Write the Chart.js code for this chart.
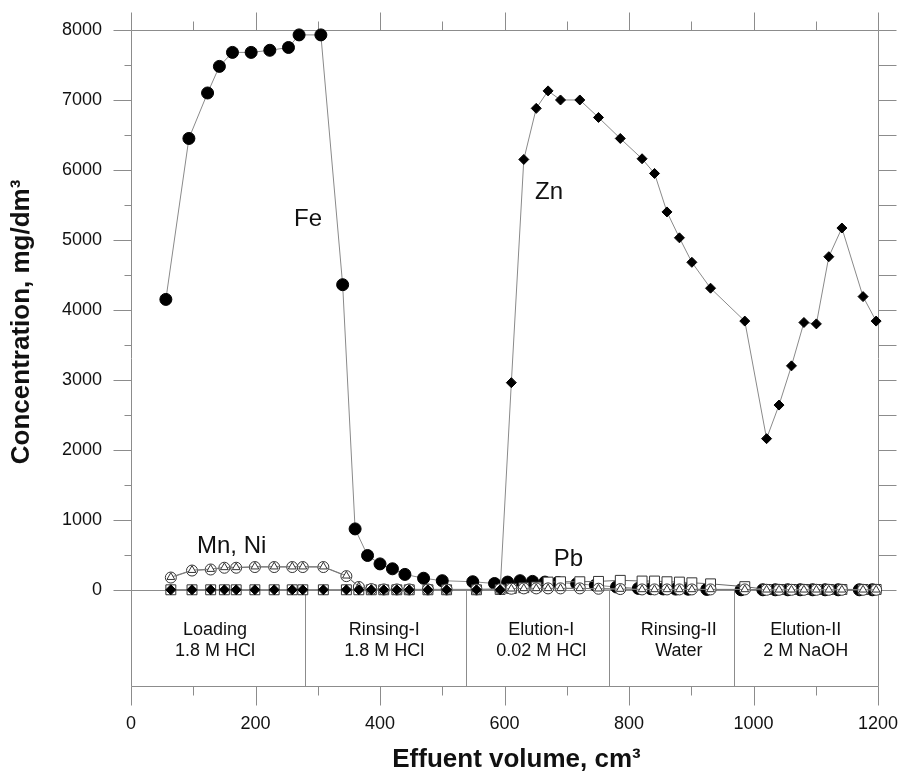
<!DOCTYPE html>
<html><head><meta charset="utf-8">
<script src="https://cdn.jsdelivr.net/npm/chart.js@4.4.1/dist/chart.umd.min.js"></script>
<style>html,body{margin:0;padding:0;background:#fff}#wrap{width:899px;height:774px;position:relative}</style>
</head><body><div id="wrap"><canvas id="c"></canvas></div>
<script>
// ---- data (effluent volume in cm3, concentration in mg/dm3) ----
const feVolume = [56, 93, 123, 142, 163, 193, 223, 253, 270, 305, 340, 360, 380, 400, 420, 440, 470, 500, 549, 584, 605, 625, 645, 665, 686, 716, 746, 780, 815, 835, 855, 875, 895, 925, 980, 1015, 1035, 1055, 1075, 1095, 1115, 1136, 1170, 1191];
const feConc = [4150, 6450, 7100, 7480, 7680, 7680, 7710, 7750, 7930, 7930, 4360, 870, 490, 370, 300, 220, 165, 130, 115, 90, 110, 130, 120, 110, 105, 85, 65, 40, 20, 15, 12, 10, 8, 5, 0, 0, 0, 0, 0, 0, 0, 0, 0, 0];
const volume = [64, 98, 128, 150, 169, 199, 230, 259, 276, 309, 346, 366, 386, 406, 427, 447, 477, 507, 555, 593, 611, 631, 651, 670, 690, 721, 751, 786, 821, 841, 861, 881, 901, 931, 986, 1021, 1041, 1061, 1081, 1101, 1121, 1142, 1176, 1197];
const znConc = [0, 0, 0, 0, 0, 0, 0, 0, 0, 0, 0, 0, 0, 0, 0, 0, 0, 0, 0, 0, 2960, 6150, 6880, 7130, 7000, 7000, 6750, 6450, 6160, 5950, 5400, 5030, 4680, 4310, 3840, 2160, 2640, 3200, 3820, 3800, 4760, 5170, 4190, 3840];
const mnConc = [180, 280, 295, 320, 320, 330, 330, 330, 330, 330, 200, 45, 10, 5, 5, 5, 5, 5, 5, 10, 15, 20, 20, 20, 20, 20, 15, 10, 5, 5, 5, 5, 5, 5, 5, 0, 0, 0, 0, 0, 0, 0, 0, 0];
const niConc = [175, 275, 290, 315, 315, 325, 325, 325, 325, 325, 195, 40, 10, 5, 5, 5, 5, 5, 5, 10, 15, 20, 20, 20, 20, 20, 15, 10, 5, 5, 5, 5, 5, 5, 5, 0, 0, 0, 0, 0, 0, 0, 0, 0];
const pbConc = [0, 0, 0, 0, 0, 0, 0, 0, 0, 0, 0, 0, 0, 0, 0, 0, 0, 0, 0, 5, 20, 30, 40, 110, 115, 115, 120, 135, 125, 125, 115, 110, 100, 85, 45, 5, 5, 5, 5, 5, 5, 5, 5, 5];
const xTickValues = [0, 200, 400, 600, 800, 1000, 1200];
const yTickValues = [0, 1000, 2000, 3000, 4000, 5000, 6000, 7000, 8000];
const phaseBounds = [280, 538, 768, 968];
const phaseNames = [['Loading', '1.8 M HCl'], ['Rinsing-I', '1.8 M HCl'], ['Elution-I', '0.02 M HCl'], ['Rinsing-II', 'Water'], ['Elution-II', '2 M NaOH']];
const seriesNames = ['Fe', 'Zn', 'Mn, Ni', 'Pb'];
const xTitle = 'Effuent volume, cm³';
const yTitle = 'Concentration, mg/dm³';

// ---- layout / style (not data) ----
const FONT = "'Liberation Sans', Arial, Helvetica, sans-serif";
const phaseLabelAt = [135, 407, 659, 880, 1084];
const seriesLabelAt = [[262, 5200], [649, 5586], [106, 529], [679, 343]];
const GRAY = '#8c8c8c';
const LINE = '#8a8a8a';

const pts = (xs, ys) => xs.map((x, i) => ({x, y: ys[i]}));
const noPad = s => { s.paddingTop = 0; s.paddingBottom = 0; s.paddingLeft = 0; s.paddingRight = 0; };

const framePlugin = {
  id: 'frame',
  beforeDatasetsDraw(chart) {
    const {ctx, chartArea: a, scales: {x, y}} = chart;
    const r = v => Math.round(v) + 0.5;
    const L = r(a.left), R = r(a.right), T = r(a.top), B = r(a.bottom);
    ctx.save();
    ctx.strokeStyle = GRAY; ctx.lineWidth = 1;
    const line = (x1, y1, x2, y2) => { ctx.beginPath(); ctx.moveTo(x1, y1); ctx.lineTo(x2, y2); ctx.stroke(); };
    line(L, T, R, T); line(L, B, R, B); line(L, T, L, B); line(R, T, R, B);
    for (let v = x.min; v <= x.max; v += 100) {
      const px = r(x.getPixelForValue(v));
      const major = v % 200 === 0;
      line(px, T, px, T - (major ? 18 : 9));
      line(px, B, px, B + (major ? 19 : 9));
    }
    for (let v = 0; v <= y.max; v += 500) {
      const py = r(y.getPixelForValue(v));
      const major = v % 1000 === 0;
      line(L, py, L - (major ? 18 : 7), py);
      line(R, py, R + 18, py);
    }
    const y0 = r(y.getPixelForValue(0));
    line(L, y0, R, y0);
    phaseBounds.forEach(b => { const px = r(x.getPixelForValue(b)); line(px, y0, px, B); });
    ctx.restore();
  },
  afterDatasetsDraw(chart) {
    const {ctx, chartArea: a, scales: {x, y}} = chart;
    ctx.save();
    ctx.fillStyle = '#111';
    ctx.textBaseline = 'alphabetic';
    ctx.font = '24px ' + FONT;
    ctx.textAlign = 'left';
    seriesNames.forEach((n, i) => {
      ctx.fillText(n, x.getPixelForValue(seriesLabelAt[i][0]), y.getPixelForValue(seriesLabelAt[i][1]));
    });
    ctx.font = '18px ' + FONT;
    ctx.textAlign = 'center';
    const y0 = y.getPixelForValue(0);
    phaseNames.forEach((p, i) => {
      const px = x.getPixelForValue(phaseLabelAt[i]);
      ctx.fillText(p[0], px, y0 + 45);
      ctx.fillText(p[1], px, y0 + 66);
    });
    // axis titles
    ctx.font = 'bold 26px ' + FONT;
    ctx.textAlign = 'center';
    ctx.fillText(xTitle, (a.left + a.right) / 2 + 12, chart.height - 7);
    ctx.translate(29, (a.top + y0) / 2 + 12);
    ctx.rotate(-Math.PI / 2);
    ctx.fillText(yTitle, 0, 0);
    ctx.restore();
  }
};

Chart.defaults.font.family = FONT;
Chart.defaults.color = '#111';

new Chart(document.getElementById('c'), {
  type: 'scatter',
  data: {
    datasets: [
      {label: 'Zn', data: pts(volume, znConc), showLine: true, borderColor: LINE, borderWidth: 1,
       pointStyle: 'rectRot', pointRadius: 5, backgroundColor: '#000', pointBorderColor: '#000', pointBorderWidth: 1},
      {label: 'Mn', data: pts(volume, mnConc), showLine: true, borderColor: '#7a7a7a', borderWidth: 1,
       pointStyle: 'triangle', pointRadius: 4.5, backgroundColor: '#fff', pointBorderColor: '#333', pointBorderWidth: 1},
      {label: 'Ni', data: pts(volume, niConc), showLine: true, borderColor: '#7a7a7a', borderWidth: 1,
       pointStyle: 'circle', pointRadius: 5.5, backgroundColor: '#fff', pointBorderColor: '#333', pointBorderWidth: 1},
      {label: 'Pb', data: pts(volume, pbConc), showLine: true, borderColor: '#6a6a6a', borderWidth: 1,
       pointStyle: 'rect', pointRadius: 7, backgroundColor: '#fff', pointBorderColor: '#333', pointBorderWidth: 1},
      {label: 'Fe', data: pts(feVolume, feConc), showLine: true, borderColor: LINE, borderWidth: 1,
       pointStyle: 'circle', pointRadius: 6, backgroundColor: '#000', pointBorderColor: '#000', pointBorderWidth: 1}
    ]
  },
  options: {
    responsive: true,
    maintainAspectRatio: false,
    animation: false,
    clip: false,
    layout: {padding: {top: 30, right: 21, left: 0, bottom: 0}},
    plugins: {legend: {display: false}, tooltip: {enabled: false}},
    scales: {
      x: {
        type: 'linear', min: 0, max: 1200,
        afterFit: s => { s.height = 88; noPad(s); },
        afterBuildTicks: s => { s.ticks = xTickValues.map(v => ({value: v})); },
        grid: {display: false, drawTicks: false},
        border: {display: false},
        ticks: {font: {size: 18}, color: '#111', padding: 27, maxRotation: 0, autoSkip: false, callback: v => String(v)},
        title: {display: false}
      },
      y: {
        type: 'linear', min: -1375, max: 8000,
        afterFit: s => { s.width = 131; noPad(s); },
        afterBuildTicks: s => { s.ticks = yTickValues.map(v => ({value: v})); },
        grid: {display: false, drawTicks: false},
        border: {display: false},
        ticks: {font: {size: 18}, color: '#111', padding: 29, autoSkip: false, callback: v => String(v)},
        title: {display: false}
      }
    }
  },
  plugins: [framePlugin]
});
</script>
</body></html>
